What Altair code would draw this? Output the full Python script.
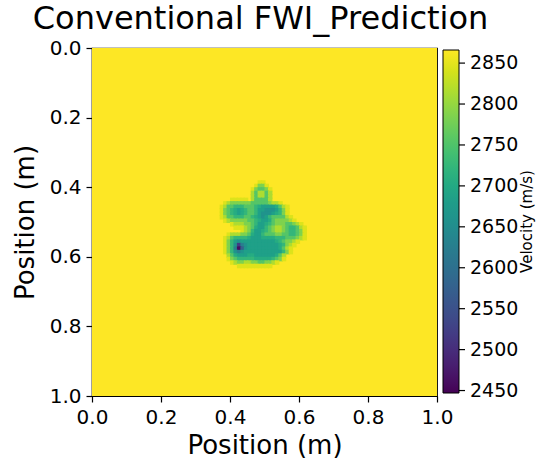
import altair as alt
import pandas as pd

# ---- text ----
title_text = "Conventional FWI_Prediction"
x_title = "Position (m)"
y_title = "Position (m)"
cbar_title = "Velocity (m/s)"

# ---- axes / colorbar ticks ----
pos_ticks = [0.0, 0.2, 0.4, 0.6, 0.8, 1.0]
cbar_ticks = [2450, 2500, 2550, 2600, 2650, 2700, 2750, 2800, 2850]
v_min = 2447
v_max = 2866

# ---- velocity model ----
background_velocity = 2866          # homogeneous medium value (whole 0..1 x 0..1 square)
cell = 0.01                         # grid spacing of the anomaly patch (m)
patch_x0 = 0.37                     # left edge of patch (m)
patch_y0 = 0.38                     # top edge of patch (m)
seam_overlap = 0.003                # each cell slightly overlaps the next, hiding hairline seams

# velocity read for each level letter (m/s)
level_velocity = {
    "a": 2845, "b": 2815, "c": 2785, "d": 2755, "e": 2725, "f": 2705,
    "g": 2685, "h": 2660, "i": 2625, "j": 2575, "k": 2520, "l": 2460,
}

# anomaly patch, one string per 0.01 m row ('.' = background)
patch_rows = [
    "...........aa.............",
    "..........acca............",
    ".........acddca...........",
    ".........bdbbdb...........",
    ".........bdbbdb...........",
    "...aaaaa.bddddb...........",
    ".abccccccdddddcbba........",
    "abddeeedddefggggfdba......",
    "acdefgfeddegghhhgeca......",
    "acdefgfeddeghhhgfeca......",
    "abddeeeddefghgeddddba.....",
    ".abcccccddefggfdccccba....",
    "...abbbccdeggfedcccddcba..",
    "....aaabcdfggedcbbcdeedba.",
    "......abceggfedcbbcdeedca.",
    "..abbbccdfggedddccddeedca.",
    ".abdeeeefgggffffeeedddcba.",
    ".aceghggggggggggfedccba...",
    ".acehkihgggggggggfecba....",
    ".aceiljhgggggggggfdba.....",
    ".acehihgggggggggggeca.....",
    "..bdfgggffggggggfdb.......",
    "..acdeeeeefffffedca.......",
    "...abccbbccddccba.........",
    ".....aaaaaaaaaa...........",
]

records = [dict(x0=0.0, x1=1.0, y0=0.0, y1=1.0, v=background_velocity)]
for j, row in enumerate(patch_rows):
    for i, ch in enumerate(row):
        if ch in level_velocity:
            records.append(dict(
                x0=round(patch_x0 + i * cell, 4),
                x1=round(patch_x0 + (i + 1) * cell + seam_overlap, 4),
                y0=round(patch_y0 + j * cell, 4),
                y1=round(patch_y0 + (j + 1) * cell + seam_overlap, 4),
                v=level_velocity[ch],
            ))
df = pd.DataFrame(records)
ticks_df = pd.DataFrame({"v": cbar_ticks})
cbar_title_df = pd.DataFrame({"label": [cbar_title]})

FONT = "DejaVu Sans"
vscale = alt.Scale(scheme="viridis", domain=[v_min, v_max], nice=False, clamp=True)

field = alt.Chart(df).mark_rect().encode(
    x=alt.X("x0:Q", scale=alt.Scale(domain=[0, 1], nice=False),
            axis=alt.Axis(values=pos_ticks, format=".1f", title=x_title,
                          labelPadding=5, titlePadding=5, labelFlush=False)),
    x2="x1:Q",
    y=alt.Y("y0:Q", scale=alt.Scale(domain=[0, 1], nice=False, reverse=True),
            axis=alt.Axis(values=pos_ticks, format=".1f", title=y_title,
                          labelPadding=5, titlePadding=11, labelFlush=False)),
    y2="y1:Q",
    color=alt.Color("v:Q", scale=vscale,
                    legend=alt.Legend(
                        type="gradient", title=None, orient="none",
                        legendX=351, legendY=2, direction="vertical",
                        gradientLength=343, gradientThickness=16,
                        gradientStrokeColor="black", gradientStrokeWidth=1,
                        values=cbar_ticks, format="d", labelFontSize=19, labelFont=FONT,
                        labelColor="black", labelOffset=11, labelOverlap=False,
                        padding=0)),
)

# colorbar tick marks (velocity scale mapped onto the colorbar's extent)
cbar_tick_marks = alt.Chart(ticks_df).mark_rule(color="black", strokeWidth=1.2).encode(
    y=alt.Y("v:Q", scale=alt.Scale(domain=[v_min, v_max], range=[345, 2], nice=False,
                                   zero=False), axis=None),
    x=alt.value(367), x2=alt.value(373),
)

cbar_label = alt.Chart(cbar_title_df).mark_text(
    angle=270, align="center", baseline="top", font=FONT, fontSize=15, color="black"
).encode(
    text="label:N", x=alt.value(428), y=alt.value(173.5),
)

chart = alt.layer(field, cbar_tick_marks, cbar_label).resolve_scale(
    y="independent"
).properties(
    width=345, height=348,
    title=alt.TitleParams(title_text, fontSize=32, font=FONT, fontWeight="normal",
                          color="black", anchor="middle", offset=2, dx=-4),
    autosize=alt.AutoSizeParams(type="none"),
    padding={"left": 92, "top": 48, "right": 99, "bottom": 62},
    background="white",
).configure_axis(
    grid=False, domainColor="black", domainWidth=1.2, tickColor="black",
    tickSize=6, tickWidth=1.2, labelFontSize=20, labelFont=FONT, labelColor="black",
    titleFontSize=26, titleFont=FONT, titleFontWeight="normal", titleColor="black",
).configure_view(
    stroke="black", strokeWidth=1.2,
)

chart.save("out.html", embed_options={"renderer": "svg", "actions": False})
